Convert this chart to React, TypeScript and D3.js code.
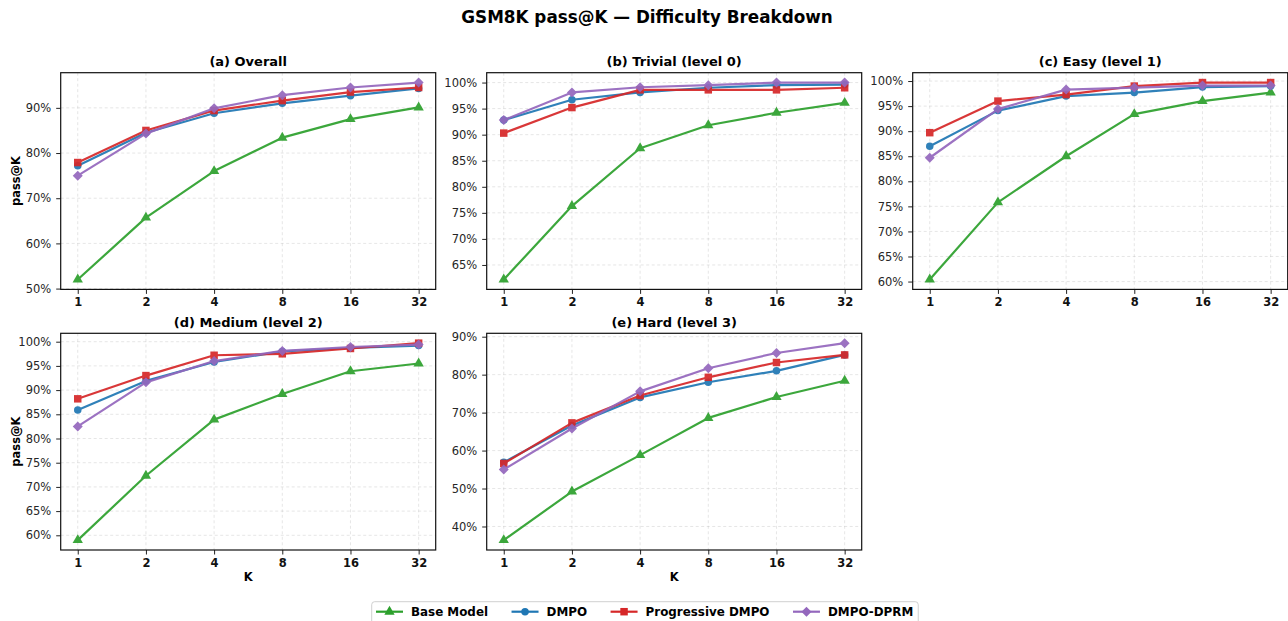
import { useRef, useEffect } from "react";
import * as d3 from "d3";

const K_LABELS = ["1", "2", "4", "8", "16", "32"];
const SERIES = ["Base Model", "DMPO", "Progressive DMPO", "DMPO-DPRM"];
const COLORS = ["#2ca02c", "#1f77b4", "#d62728", "#9467bd"];
const MARKERS = ["triangle", "circle", "square", "diamond"];

// values in %, order follows SERIES
const OVERALL = [
  [52.0, 65.7, 76.0, 83.4, 87.5, 90.1],
  [77.2, 84.5, 88.8, 91.0, 92.7, 94.3],
  [77.9, 85.0, 89.4, 91.6, 93.5, 94.5],
  [75.0, 84.3, 89.9, 92.8, 94.5, 95.6],
];
const TRIVIAL = [
  [62.2, 76.3, 87.4, 91.8, 94.2, 96.1],
  [92.8, 96.7, 98.1, 99.0, 99.5, 99.6],
  [90.3, 95.2, 98.6, 98.6, 98.6, 99.0],
  [92.8, 98.1, 99.1, 99.5, 100.0, 100.0],
];
const EASY = [
  [60.4, 75.8, 85.0, 93.4, 96.0, 97.7],
  [87.0, 94.1, 97.0, 97.7, 98.8, 99.0],
  [89.7, 96.0, 97.3, 99.0, 99.7, 99.7],
  [84.7, 94.4, 98.3, 98.7, 99.1, 99.1],
];
const MEDIUM = [
  [59.0, 72.3, 83.9, 89.2, 93.9, 95.5],
  [85.9, 91.9, 95.8, 98.0, 98.7, 99.2],
  [88.2, 93.0, 97.2, 97.5, 98.6, 99.7],
  [82.5, 91.6, 96.0, 98.1, 98.9, 99.4],
];
const HARD = [
  [36.4, 49.2, 58.8, 68.6, 74.1, 78.4],
  [56.9, 66.6, 74.0, 78.0, 81.0, 85.2],
  [56.6, 67.3, 74.5, 79.3, 83.2, 85.2],
  [55.0, 65.8, 75.6, 81.7, 85.7, 88.3],
];

const PANEL_TITLES = [
  "(a) Overall",
  "(b) Trivial (level 0)",
  "(c) Easy (level 1)",
  "(d) Medium (level 2)",
  "(e) Hard (level 3)",
];
const PANEL_DATA = [OVERALL, TRIVIAL, EASY, MEDIUM, HARD];
const Y_TICKS = [
  [50, 60, 70, 80, 90],
  [65, 70, 75, 80, 85, 90, 95, 100],
  [60, 65, 70, 75, 80, 85, 90, 95, 100],
  [60, 65, 70, 75, 80, 85, 90, 95, 100],
  [40, 50, 60, 70, 80, 90],
];

const W = 1288;
const H = 621;
const COL_LEFT = [60.7, 486.7, 912.7];
const ROW_TOP = [72.7, 333.3];
const PW = 375;
const PH = 216.7;
const FONT = "DejaVu Sans";

const symbolPath = (kind: string) => {
  if (kind === "triangle") return d3.symbol(d3.symbolTriangle, 46)();
  if (kind === "circle") return d3.symbol(d3.symbolCircle, 44)();
  if (kind === "square") return d3.symbol(d3.symbolSquare, 56)();
  // matplotlib 'D' = square rotated 45deg
  return "M0,-5L5,0L0,5L-5,0Z";
};

const App = () => {
  const svgRef = useRef<SVGSVGElement>(null);

  useEffect(() => {
    document.body.style.margin = "0";
    const svg = d3.select(svgRef.current);
    svg.selectAll("*").remove();

    svg
      .append("text")
      .attr("x", 647)
      .attr("y", 23)
      .attr("text-anchor", "middle")
      .attr("font-family", FONT)
      .attr("font-weight", "bold")
      .attr("font-size", 16.8)
      .attr("fill", "#000")
      .text("GSM8K pass@K \u2014 Difficulty Breakdown");

    PANEL_DATA.forEach((series, i) => {
      const col = i % 3;
      const row = Math.floor(i / 3);
      const g = svg
        .append("g")
        .attr("transform", `translate(${COL_LEFT[col]},${ROW_TOP[row]})`);

      const all = series.flat();
      const lo = d3.min(all) as number;
      const hi = d3.max(all) as number;
      const pad = (hi - lo) * 0.05;

      const xScale = d3.scalePoint().domain(K_LABELS).range([0, PW]).padding(0.25);
      const yScale = d3.scaleLinear().domain([lo - pad, hi + pad]).range([PH, 0]);

      // grid
      g.selectAll(".vgrid")
        .data(K_LABELS)
        .join("line")
        .attr("x1", (d) => xScale(d) as number)
        .attr("x2", (d) => xScale(d) as number)
        .attr("y1", 0)
        .attr("y2", PH)
        .attr("stroke", "#b0b0b0")
        .attr("stroke-opacity", 0.4)
        .attr("stroke-width", 0.8)
        .attr("stroke-dasharray", "3,2.5");
      g.selectAll(".hgrid")
        .data(Y_TICKS[i])
        .join("line")
        .attr("x1", 0)
        .attr("x2", PW)
        .attr("y1", (d) => yScale(d))
        .attr("y2", (d) => yScale(d))
        .attr("stroke", "#b0b0b0")
        .attr("stroke-opacity", 0.4)
        .attr("stroke-width", 0.8)
        .attr("stroke-dasharray", "3,2.5");

      // axes
      const yAxis = g
        .append("g")
        .call(
          d3
            .axisLeft(yScale)
            .tickValues(Y_TICKS[i])
            .tickSize(4.5)
            .tickPadding(5)
            .tickFormat((d) => `${d}%`)
        );
      yAxis.select(".domain").remove();
      yAxis.selectAll("line").attr("stroke", "#222").attr("stroke-width", 1);
      yAxis
        .selectAll("text")
        .attr("font-family", FONT)
        .attr("font-size", 11.5)
        .attr("fill", "#262626");

      const xAxis = g
        .append("g")
        .attr("transform", `translate(0,${PH})`)
        .call(d3.axisBottom(xScale).tickSize(4.5).tickPadding(4));
      xAxis.select(".domain").remove();
      xAxis.selectAll("line").attr("stroke", "#222").attr("stroke-width", 1);
      xAxis
        .selectAll("text")
        .attr("font-family", FONT)
        .attr("font-weight", "bold")
        .attr("font-size", 11.5)
        .attr("fill", "#111");

      // series
      const line = d3
        .line<number>()
        .x((_, j) => xScale(K_LABELS[j]) as number)
        .y((d) => yScale(d));

      series.forEach((vals, s) => {
        const sg = g.append("g").attr("opacity", 0.92);
        sg.append("path")
          .attr("d", line(vals))
          .attr("fill", "none")
          .attr("stroke", COLORS[s])
          .attr("stroke-width", 2.2)
          .attr("stroke-linejoin", "round");
        sg.selectAll(".mk")
          .data(vals)
          .join("path")
          .attr("d", symbolPath(MARKERS[s]))
          .attr("transform", (d, j) => `translate(${xScale(K_LABELS[j])},${yScale(d)})`)
          .attr("fill", COLORS[s]);
      });

      // frame
      g.append("rect")
        .attr("width", PW)
        .attr("height", PH)
        .attr("fill", "none")
        .attr("stroke", "#111")
        .attr("stroke-width", 1.2);

      g.append("text")
        .attr("x", PW / 2)
        .attr("y", -6.5)
        .attr("text-anchor", "middle")
        .attr("font-family", FONT)
        .attr("font-weight", "bold")
        .attr("font-size", 13)
        .attr("fill", "#000")
        .text(PANEL_TITLES[i]);

      if (col === 0) {
        g.append("text")
          .attr("transform", `translate(-41,${PH / 2}) rotate(-90)`)
          .attr("text-anchor", "middle")
          .attr("font-family", FONT)
          .attr("font-weight", "bold")
          .attr("font-size", 11.5)
          .attr("fill", "#000")
          .text("pass@K");
      }
      if (row === 1) {
        g.append("text")
          .attr("x", PW / 2)
          .attr("y", PH + 31.5)
          .attr("text-anchor", "middle")
          .attr("font-family", FONT)
          .attr("font-weight", "bold")
          .attr("font-size", 11.5)
          .attr("fill", "#000")
          .text("K");
      }
    });

    // legend
    const legend = svg.append("g");
    const box = legend
      .append("rect")
      .attr("x", 371.7)
      .attr("y", 601.7)
      .attr("height", 30)
      .attr("rx", 3)
      .attr("fill", "#fff")
      .attr("stroke", "#d0d0d0")
      .attr("stroke-width", 1);
    let cx = 376;
    const ly = 611.7;
    SERIES.forEach((name, s) => {
      legend
        .append("line")
        .attr("x1", cx)
        .attr("x2", cx + 27)
        .attr("y1", ly)
        .attr("y2", ly)
        .attr("stroke", COLORS[s])
        .attr("stroke-width", 2.2);
      legend
        .append("path")
        .attr("d", symbolPath(MARKERS[s]))
        .attr("transform", `translate(${cx + 13.5},${ly})`)
        .attr("fill", COLORS[s]);
      const t = legend
        .append("text")
        .attr("x", cx + 35)
        .attr("y", ly + 4.3)
        .attr("font-family", FONT)
        .attr("font-weight", "bold")
        .attr("font-size", 11.9)
        .attr("fill", "#000")
        .text(name);
      const tw = (t.node() as SVGTextElement).getComputedTextLength();
      cx = cx + 35 + tw + 23.5;
    });
    box.attr("width", cx - 23.5 + 5 - 371.7);
  }, []);

  return (
    <div>
      <svg ref={svgRef} width={W} height={H} style={{ display: "block" }}></svg>
    </div>
  );
};

export default App;
